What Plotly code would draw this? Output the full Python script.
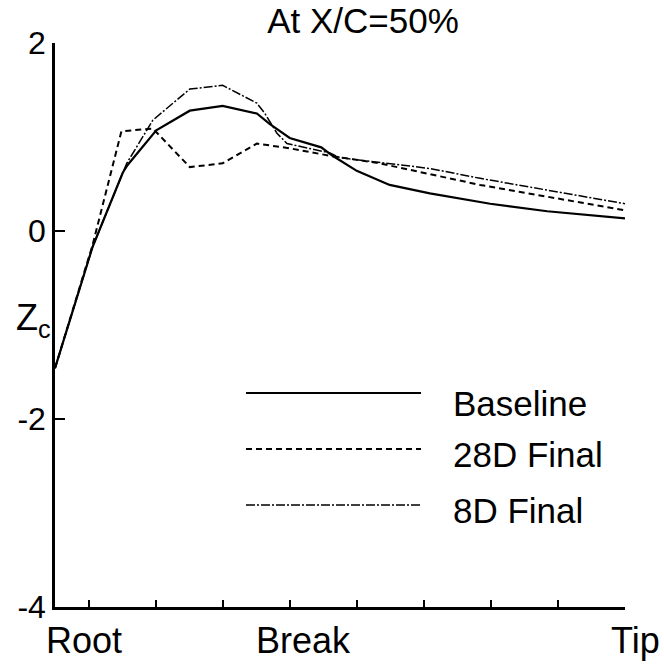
import plotly.graph_objects as go

# ---- data (spanwise station: ticks at 1..9, Root=1, Break=4, Tip=9) ----
base_x = [0.5, 1.06, 1.51, 1.58, 2.01, 2.51, 3.0, 3.51, 3.70, 4.0, 4.47, 4.64, 5.0, 5.49, 6.09, 6.99, 7.84, 9.0]
base_y = [-1.46, -0.17, 0.62, 0.70, 1.07, 1.28, 1.33, 1.25, 1.14, 0.99, 0.89, 0.80, 0.64, 0.49, 0.40, 0.29, 0.21, 0.135]

d28_x = [0.5, 1.06, 1.49, 1.96, 2.51, 3.0, 3.51, 4.0, 4.6, 5.34, 6.84, 8.33, 9.0]
d28_y = [-1.46, -0.15, 1.06, 1.09, 0.68, 0.72, 0.93, 0.88, 0.80, 0.72, 0.49, 0.30, 0.22]

d8_x = [0.5, 1.06, 1.57, 1.96, 2.51, 3.0, 3.51, 3.63, 3.81, 3.96, 4.6, 4.75, 6.09, 6.84, 9.0]
d8_y = [-1.46, -0.17, 0.72, 1.18, 1.51, 1.55, 1.36, 1.25, 1.04, 0.93, 0.83, 0.78, 0.665, 0.56, 0.29]

series_names = ["Baseline", "28D Final", "8D Final"]
x_ticks = [1, 2, 3, 4, 5, 6, 7, 8, 9]
x_label_vals = [1, 4, 9]
x_label_text = ["Root", "Break", "Tip"]
y_ticks = [-4, -2, 0, 2]
y_tick_text = ["-4", "-2", "0", "2"]
title_text = "At X/C=50%"

FONT = "Liberation Sans, Arial, Helvetica, sans-serif"
dashes = ["solid", "6px,4px", "9px,2px,2px,2px"]
widths = [2.2, 2.0, 1.5]

fig = go.Figure()
for xs, ys, name, dsh, w in zip([base_x, d28_x, d8_x], [base_y, d28_y, d8_y],
                                series_names, dashes, widths):
    fig.add_trace(go.Scatter(x=xs, y=ys, mode="lines", name=name,
                             line=dict(color="black", width=w, dash=dsh),
                             showlegend=False))

# plot area: px x 55..625, y 43..607
L, R, T, B = 55, 39, 43, 58
W, H = 664, 665
pw, ph = W - L - R, H - T - B

def px2paper_x(px):
    return (px - L) / pw

def py2paper_y(py):
    return (H - B - py) / ph

# manual legend
legend_line_y = [393, 449, 505]
legend_text_y = [403, 454, 510]
for name, dsh, w, ly, ty in zip(series_names, dashes, widths, legend_line_y, legend_text_y):
    fig.add_shape(type="line", xref="paper", yref="paper",
                  x0=px2paper_x(246), x1=px2paper_x(421),
                  y0=py2paper_y(ly), y1=py2paper_y(ly),
                  line=dict(color="black", width=w, dash=dsh))
    fig.add_annotation(text=name, xref="paper", yref="paper",
                       x=px2paper_x(451), y=py2paper_y(ty),
                       xanchor="left", yanchor="middle", showarrow=False,
                       font=dict(family=FONT, size=35, color="black"))

# x labels
shifts = [-5, 14, 10]
for v, t, s in zip(x_label_vals, x_label_text, shifts):
    fig.add_annotation(text=t, x=v, xref="x", yref="paper",
                       y=py2paper_y(640), xanchor="center", yanchor="middle",
                       xshift=s, showarrow=False,
                       font=dict(family=FONT, size=36, color="black"))

# Z_c label
fig.add_annotation(text="Z<sub>c</sub>", xref="paper", yref="paper",
                   x=px2paper_x(53), y=py2paper_y(320), xanchor="right",
                   yanchor="middle", showarrow=False,
                   font=dict(family=FONT, size=36, color="black"))

fig.update_layout(
    width=W, height=H,
    margin=dict(l=L, r=R, t=T, b=B, autoexpand=False),
    paper_bgcolor="white", plot_bgcolor="white",
    title=dict(text=title_text, x=363 / W, xanchor="center",
               y=1 - 21 / H, yanchor="middle",
               font=dict(family=FONT, size=35, color="black")),
    xaxis=dict(range=[0.5, 9], tickvals=x_ticks, showticklabels=False,
               ticks="inside", ticklen=7, tickwidth=1.5, tickcolor="black",
               showline=True, linecolor="black", linewidth=2.5,
               showgrid=False, zeroline=False, mirror=False, automargin=False),
    yaxis=dict(range=[-4, 2], tickvals=y_ticks, ticktext=y_tick_text,
               ticks="inside", ticklen=10,
               tickwidth=1.5, tickcolor="black",
               showline=True, linecolor="black", linewidth=2.5,
               showgrid=False, zeroline=False, mirror=False, automargin=False,
               tickfont=dict(family=FONT, size=32, color="black")),
    showlegend=False,
)

fig.write_html("out.html", config={"displayModeBar": False},
               post_script="document.body.style.margin='0';document.body.style.padding='0';")
